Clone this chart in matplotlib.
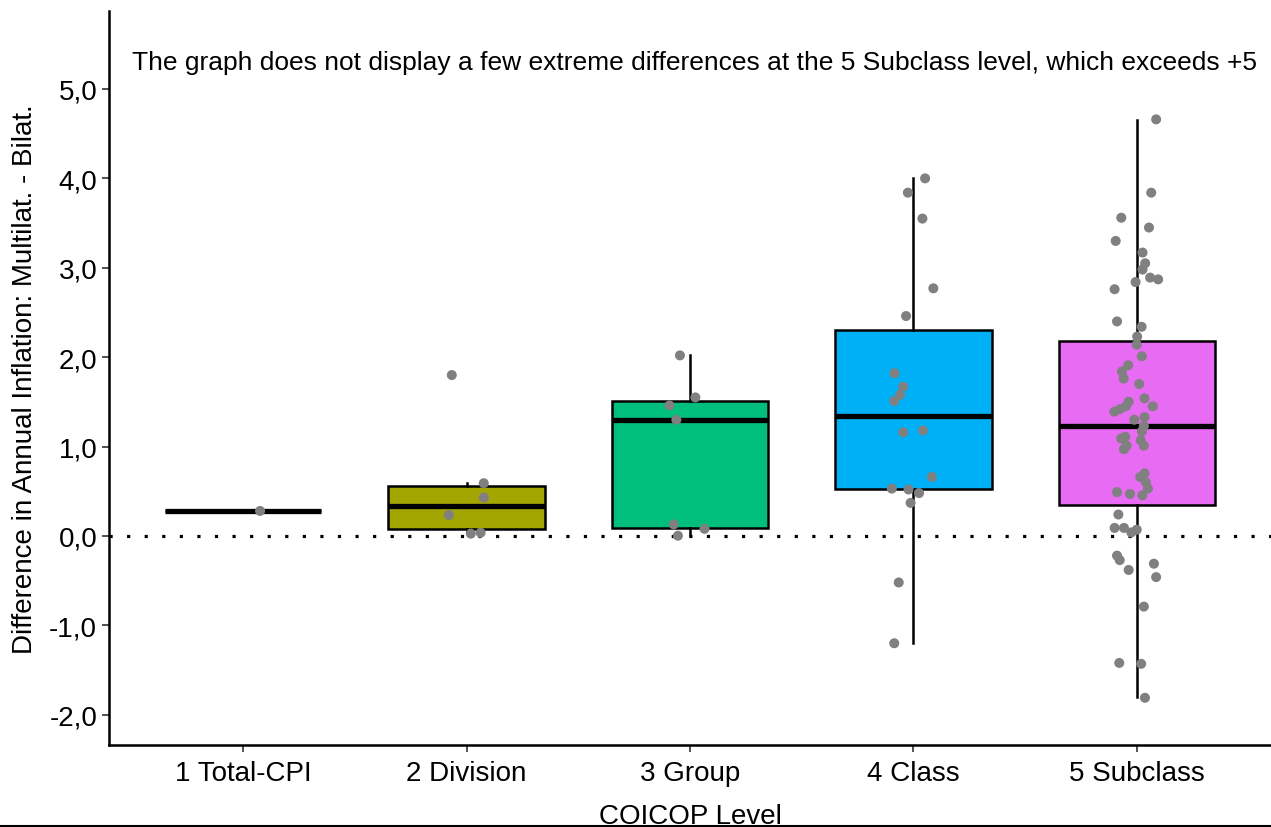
import matplotlib
matplotlib.use("Agg")
import matplotlib.pyplot as plt
from matplotlib.lines import Line2D

# ----------------------------
# data
# ----------------------------
levels = ["1 Total-CPI", "2 Division", "3 Group", "4 Class", "5 Subclass"]
box_colors = ["#F8766D", "#A3A500", "#00BF7D", "#00B0F6", "#E76BF3"]

# box statistics per level
q1 = [0.28, 0.08, 0.09, 0.53, 0.35]
med = [0.28, 0.34, 1.30, 1.345, 1.235]
q3 = [0.28, 0.56, 1.51, 2.30, 2.18]
whislo = [0.28, 0.03, 0.01, -1.20, -1.80]
whishi = [0.28, 0.59, 2.02, 4.00, 4.65]

# individual differences (jittered points) and their horizontal jitter
pts_total = [0.28]
jit_total = [0.076]

pts_division = [1.80, 0.59, 0.43, 0.235, 0.026, 0.037]
jit_division = [-0.066, 0.077, 0.077, -0.079, 0.019, 0.063]

pts_group = [2.02, 1.55, 1.46, 1.30, 0.13, 0.08, 0.003]
jit_group = [-0.045, 0.024, -0.092, -0.061, -0.073, 0.065, -0.054]

pts_class = [4.00, 3.84, 3.55, 2.77, 2.46, 1.82, 1.67, 1.58, 1.51,
             1.16, 1.18, 0.66, 0.53, 0.52, 0.48, 0.37, -0.52, -1.20]
jit_class = [0.052, -0.025, 0.040, 0.089, -0.033, -0.085, -0.046, -0.060, -0.086,
             -0.046, 0.042, 0.082, -0.097, -0.022, 0.025, -0.013, -0.066, -0.086]

pts_subclass = [4.66, 3.84, 3.56, 3.45, 3.30, 3.17, 3.05, 2.98, 2.89, 2.87,
                2.84, 2.76, 2.40, 2.34, 2.23, 2.14, 2.01, 1.91, 1.84, 1.76,
                1.70, 1.54, 1.45, 1.50, 1.45, 1.42, 1.39, 1.33, 1.30, 1.23,
                1.17, 1.11, 1.09, 1.07, 1.01, 1.01, 0.97, 0.70, 0.66, 0.60,
                0.53, 0.49, 0.47, 0.455, 0.24, 0.09, 0.09, 0.07, 0.04,
                -0.22, -0.27, -0.38, -0.31, -0.46, -0.79, -1.42, -1.43, -1.81]
jit_subclass = [0.086, 0.064, -0.070, 0.054, -0.095, 0.025, 0.037, 0.025, 0.059, 0.095,
                -0.006, -0.100, -0.089, 0.021, 0.001, -0.001, 0.022, -0.039, -0.067, -0.059,
                0.010, 0.034, 0.071, -0.037, -0.050, -0.075, -0.101, 0.034, -0.012, 0.031,
                0.022, -0.052, -0.070, 0.017, 0.031, -0.046, -0.058, 0.034, 0.015, 0.040,
                0.049, -0.089, -0.031, 0.024, -0.083, -0.100, -0.058, -0.001, -0.025,
                -0.089, -0.077, -0.037, 0.076, 0.086, 0.031, -0.079, 0.019, 0.036]

points = [pts_total, pts_division, pts_group, pts_class, pts_subclass]
jitters = [jit_total, jit_division, jit_group, jit_class, jit_subclass]

note = ("The graph does not display a few extreme differences at the "
        "5 Subclass level, which exceeds +5")

# ----------------------------
# plot
# ----------------------------
plt.rcParams["font.family"] = ["Liberation Sans", "DejaVu Sans"]

fig = plt.figure(figsize=(12.71, 8.28), dpi=100)
ax = fig.add_axes([109 / 1271, 1 - 746 / 828, 1 - 109 / 1271, (746 - 12) / 828])

stats = []
for i, name in enumerate(levels):
    stats.append({"label": name, "q1": q1[i], "med": med[i], "q3": q3[i],
                  "whislo": whislo[i], "whishi": whishi[i], "fliers": []})

positions = list(range(1, len(levels) + 1))
bp = ax.bxp(stats, positions=positions, widths=0.7, patch_artist=True,
            showfliers=False, showcaps=False,
            boxprops=dict(linewidth=1.8, edgecolor="black"),
            whiskerprops=dict(linewidth=1.8, color="black"),
            medianprops=dict(linewidth=3.8, color="black", solid_capstyle="butt"))
for patch, col in zip(bp["boxes"], box_colors):
    patch.set_facecolor(col)

# zero reference line
ax.axhline(0, color="black", linestyle=(0, (1, 4.5)), linewidth=2.3, zorder=1)

# jittered points
for pos, vals, jit in zip(positions, points, jitters):
    xs = [pos + j for j in jit]
    ax.scatter(xs, vals, s=52, color="#808080", edgecolors="none", zorder=5)

ax.text(0.505, 5.3, note, ha="left", va="center", fontsize=19)

ax.set_xlim(0.4, 5.6)
ax.set_ylim(-2.338, 5.872)
ax.set_xticks(positions)
ax.set_xticklabels(levels, fontsize=20)
yt = [-2, -1, 0, 1, 2, 3, 4, 5]
ax.set_yticks(yt)
ax.set_yticklabels([f"{v:.1f}".replace(".", ",") for v in yt], fontsize=20)
ax.tick_params(axis="both", length=5, width=1.2, colors="#333333", labelcolor="black")
ax.tick_params(axis="x", pad=6)

for side in ["top", "right"]:
    ax.spines[side].set_visible(False)
for side in ["left", "bottom"]:
    ax.spines[side].set_linewidth(1.8)

ax.set_xlabel("COICOP Level", fontsize=20, labelpad=12)
ax.set_ylabel("Difference in Annual Inflation: Multilat. - Bilat.", fontsize=20, labelpad=8)

# thin border line at the very bottom of the picture
fig.add_artist(Line2D([0, 1], [1.5 / 828, 1.5 / 828], color="black", linewidth=1.5,
                      transform=fig.transFigure))

fig.savefig("out.png", dpi=100)
